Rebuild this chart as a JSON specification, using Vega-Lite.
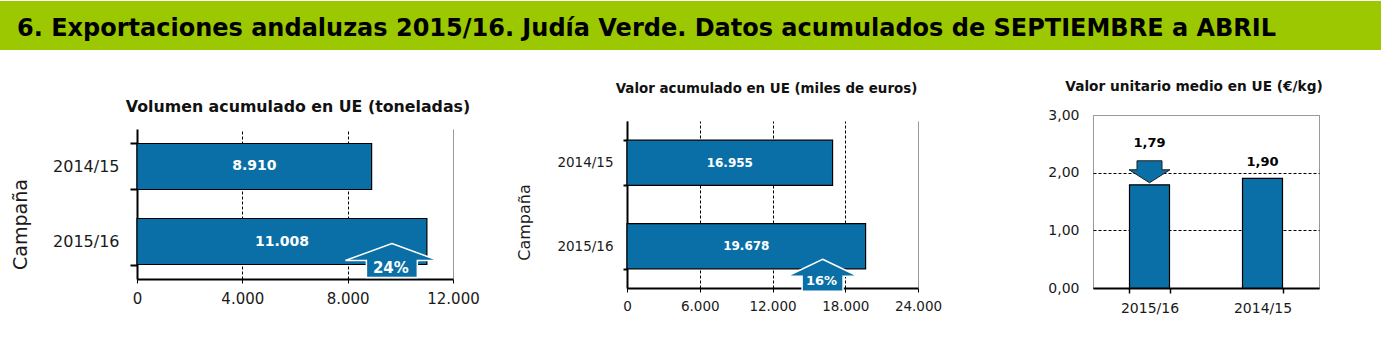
{
  "$schema": "https://vega.github.io/schema/vega-lite/v6.json",
  "padding": {"left": 0, "top": 1, "right": 0, "bottom": 0},
  "background": "white",
  "config": {
    "locale": {"number": {"decimal": ",", "thousands": ".", "grouping": [3], "currency": ["", " €"]}},
    "font": "DejaVu Sans",
    "view": {"stroke": null},
    "axis": {"labelFont": "DejaVu Sans", "titleFont": "DejaVu Sans", "labelColor": "#1a1a1a", "titleColor": "#1a1a1a", "titleFontWeight": "normal", "labelFlush": false},
    "title": {"font": "DejaVu Sans", "fontWeight": "bold", "color": "#111111"}
  },
  "datasets": {
    "banner": [{"titulo": "6. Exportaciones andaluzas 2015/16. Judía Verde. Datos acumulados de SEPTIEMBRE a ABRIL"}],
    "volumen": [{"campana": "2014/15", "valor": 8910}, {"campana": "2015/16", "valor": 11008, "variacion": "24%"}],
    "valor": [{"campana": "2014/15", "valor": 16955}, {"campana": "2015/16", "valor": 19678, "variacion": "16%"}],
    "unitario": [{"campana": "2015/16", "valor": 1.79, "tendencia": "baja"}, {"campana": "2014/15", "valor": 1.90}],
    "vacio": [{}]
  },
  "spacing": 13,
  "vconcat": [
    {
      "width": 1381, "height": 49,
      "data": {"name": "banner"},
      "view": {"fill": "#9BC800", "stroke": null},
      "mark": {"type": "text", "align": "left", "baseline": "middle", "dx": 17, "dy": 3, "font": "DejaVu Sans", "fontWeight": "bold", "fontSize": 24, "color": "#000000"},
      "encoding": {
        "text": {"field": "titulo"},
        "x": {"datum": 0, "type": "quantitative", "scale": {"domain": [0, 1]}, "axis": null}
      }
    },
    {
      "spacing": 0,
      "hconcat": [
        {"width": 11, "height": 1, "data": {"name": "vacio"}, "mark": {"type": "text", "text": ""}, "encoding": {}},
        {
          "spacing": 0,
          "vconcat": [
            {"width": 1, "height": 30, "data": {"name": "vacio"}, "mark": {"type": "text", "text": ""}, "encoding": {}},
            {
              "width": 316, "height": 150,
              "data": {"name": "volumen"},
              "title": {"text": "Volumen acumulado en UE (toneladas)", "fontSize": 15.8, "offset": 5, "dx": 3},
              "encoding": {
                "y": {"field": "campana", "type": "nominal", "sort": ["2014/15", "2015/16"],
                  "scale": {"paddingInner": 0.387, "paddingOuter": 0.193},
                  "axis": {"title": "Campaña", "titleFontSize": 19, "titlePadding": 22, "titleY": 95, "labelFontSize": 16, "labelPadding": 11, "tickSize": 7, "tickWidth": 2, "tickColor": "#000000", "tickBand": "extent", "domainColor": "#000000", "domainWidth": 2}}
              },
              "resolve": {"scale": {"x": "independent"}, "axis": {"x": "independent"}},
              "layer": [
                {
                  "mark": {"type": "bar", "color": "#0A6FA6", "stroke": "#000000", "strokeWidth": 1.2},
                  "encoding": {
                    "x": {"field": "valor", "type": "quantitative", "scale": {"domain": [0, 12000], "nice": false},
                      "axis": {"title": null, "values": [0, 4000, 8000, 12000], "format": ",.0f", "labelFontSize": 15, "tickSize": 4, "tickColor": "#000000", "domainColor": "#000000", "domainWidth": 2, "labelPadding": 8, "grid": true,
                        "gridColor": {"condition": {"test": "datum.value == 12000", "value": "#999999"}, "value": "#000000"},
                        "gridDash": {"condition": {"test": "datum.value == 12000", "value": []}, "value": [3, 2]}}}
                  }
                },
                {
                  "mark": {"type": "text", "color": "white", "fontWeight": "bold", "fontSize": 14, "baseline": "middle"},
                  "encoding": {
                    "x": {"field": "valor", "type": "quantitative", "scale": {"domain": [0, 24000], "nice": false}, "axis": null},
                    "text": {"field": "valor", "type": "quantitative", "format": ",.0f"}
                  }
                },
                {
                  "transform": [{"filter": "datum.variacion != null"}],
                  "mark": {"type": "point", "shape": "M0,-0.366L1,0L0.548,0L0.548,0.366L-0.548,0.366L-0.548,0L-1,0Z", "size": 8649, "filled": true, "fill": "#0A6FA6", "stroke": "white", "strokeWidth": 1.5, "opacity": 1, "xOffset": -35, "yOffset": 19},
                  "encoding": {
                    "x": {"field": "valor", "type": "quantitative", "scale": {"domain": [0, 12000], "nice": false}, "axis": null}
                  }
                },
                {
                  "transform": [{"filter": "datum.variacion != null"}],
                  "mark": {"type": "text", "color": "white", "fontWeight": "bold", "fontSize": 15, "baseline": "middle", "dx": -36, "dy": 26},
                  "encoding": {
                    "x": {"field": "valor", "type": "quantitative", "scale": {"domain": [0, 12000], "nice": false}, "axis": null},
                    "text": {"field": "variacion"}
                  }
                }
              ]
            }
          ]
        },
        {"width": 36, "height": 1, "data": {"name": "vacio"}, "mark": {"type": "text", "text": ""}, "encoding": {}},
        {
          "spacing": 0,
          "vconcat": [
            {"width": 1, "height": 12, "data": {"name": "vacio"}, "mark": {"type": "text", "text": ""}, "encoding": {}},
            {
              "width": 291, "height": 167,
              "data": {"name": "valor"},
              "title": {"text": "Valor acumulado en UE (miles de euros)", "fontSize": 13.4, "offset": 19, "dx": -6},
              "encoding": {
                "y": {"field": "campana", "type": "nominal", "sort": ["2014/15", "2015/16"],
                  "scale": {"paddingInner": 0.46, "paddingOuter": 0.23},
                  "axis": {"title": "Campaña", "titleFontSize": 16, "titlePadding": 24, "titleY": 101, "labelFontSize": 13.5, "labelPadding": 10, "tickSize": 4, "tickWidth": 2, "tickColor": "#000000", "tickBand": "extent", "domainColor": "#000000", "domainWidth": 2}}
              },
              "resolve": {"scale": {"x": "independent"}, "axis": {"x": "independent"}},
              "layer": [
                {
                  "mark": {"type": "bar", "color": "#0A6FA6", "stroke": "#000000", "strokeWidth": 1.2},
                  "encoding": {
                    "x": {"field": "valor", "type": "quantitative", "scale": {"domain": [0, 24000], "nice": false},
                      "axis": {"title": null, "values": [0, 6000, 12000, 18000, 24000], "format": ",.0f", "labelFontSize": 13.5, "tickSize": 4, "tickColor": "#000000", "domainColor": "#000000", "domainWidth": 2, "labelPadding": 7, "grid": true,
                        "gridColor": {"condition": {"test": "datum.value == 24000", "value": "#999999"}, "value": "#000000"},
                        "gridDash": {"condition": {"test": "datum.value == 24000", "value": []}, "value": [3, 2]}}}
                  }
                },
                {
                  "mark": {"type": "text", "color": "white", "fontWeight": "bold", "fontSize": 12, "baseline": "middle"},
                  "encoding": {
                    "x": {"field": "valor", "type": "quantitative", "scale": {"domain": [0, 48000], "nice": false}, "axis": null},
                    "text": {"field": "valor", "type": "quantitative", "format": ",.0f"}
                  }
                },
                {
                  "transform": [{"filter": "datum.variacion != null"}],
                  "mark": {"type": "point", "shape": "M0,-0.451L1,0.028L0.577,0.028L0.577,0.451L-0.577,0.451L-0.577,0.028L-1,0.028Z", "size": 5041, "filled": true, "fill": "#0A6FA6", "stroke": "white", "strokeWidth": 1.5, "opacity": 1, "xOffset": -43, "yOffset": 29},
                  "encoding": {
                    "x": {"field": "valor", "type": "quantitative", "scale": {"domain": [0, 24000], "nice": false}, "axis": null}
                  }
                },
                {
                  "transform": [{"filter": "datum.variacion != null"}],
                  "mark": {"type": "text", "color": "white", "fontWeight": "bold", "fontSize": 13, "baseline": "middle", "dx": -44, "dy": 35},
                  "encoding": {
                    "x": {"field": "valor", "type": "quantitative", "scale": {"domain": [0, 24000], "nice": false}, "axis": null},
                    "text": {"field": "variacion"}
                  }
                }
              ]
            }
          ]
        },
        {"width": 105, "height": 1, "data": {"name": "vacio"}, "mark": {"type": "text", "text": ""}, "encoding": {}},
        {
          "spacing": 0,
          "vconcat": [
            {"width": 1, "height": 10, "data": {"name": "vacio"}, "mark": {"type": "text", "text": ""}, "encoding": {}},
            {
              "width": 226, "height": 173,
              "data": {"name": "unitario"},
              "view": {"stroke": "#999999", "strokeWidth": 1},
              "title": {"text": "Valor unitario medio en UE (€/kg)", "fontSize": 13.7, "offset": 14, "dx": -12},
              "encoding": {
                "x": {"field": "campana", "type": "nominal", "sort": ["2015/16", "2014/15"],
                  "scale": {"paddingInner": 0.646, "paddingOuter": 0.323},
                  "axis": {"title": null, "labelAngle": 0, "labelFontSize": 14, "tickBand": "extent", "tickSize": 5, "tickColor": "#000000", "tickWidth": 1.5, "domainColor": "#000000", "domainWidth": 2, "labelPadding": 8}},
                "y": {"field": "valor", "type": "quantitative", "scale": {"domain": [0, 3], "nice": false},
                  "axis": {"title": null, "values": [0, 1, 2, 3], "format": ",.2f", "labelFontSize": 14, "ticks": false, "labelPadding": 14, "domain": false, "grid": true,
                    "gridColor": {"condition": {"test": "datum.value == 3", "value": "#999999"}, "value": "#000000"},
                    "gridDash": [3, 2]}}
              },
              "layer": [
                {"mark": {"type": "bar", "color": "#0A6FA6", "stroke": "#000000", "strokeWidth": 1.2}},
                {
                  "transform": [{"filter": "datum.tendencia == 'baja'"}],
                  "mark": {"type": "point", "shape": "M-0.61,-0.537L0.61,-0.537L0.61,-0.098L1,-0.098L0,0.537L-1,-0.098L-0.61,-0.098Z", "size": 1681, "filled": true, "fill": "#0A6FA6", "stroke": "#222222", "strokeWidth": 1, "opacity": 1, "yOffset": -13}
                },
                {
                  "transform": [{"filter": "datum.tendencia == 'baja'"}],
                  "mark": {"type": "text", "fontWeight": "bold", "fontSize": 13, "baseline": "middle", "dy": -42, "color": "#000000"},
                  "encoding": {"text": {"field": "valor", "type": "quantitative", "format": ",.2f"}}
                },
                {
                  "transform": [{"filter": "datum.tendencia != 'baja'"}],
                  "mark": {"type": "text", "fontWeight": "bold", "fontSize": 13, "baseline": "middle", "dy": -16, "color": "#000000"},
                  "encoding": {"text": {"field": "valor", "type": "quantitative", "format": ",.2f"}}
                }
              ]
            }
          ]
        }
      ]
    }
  ]
}
